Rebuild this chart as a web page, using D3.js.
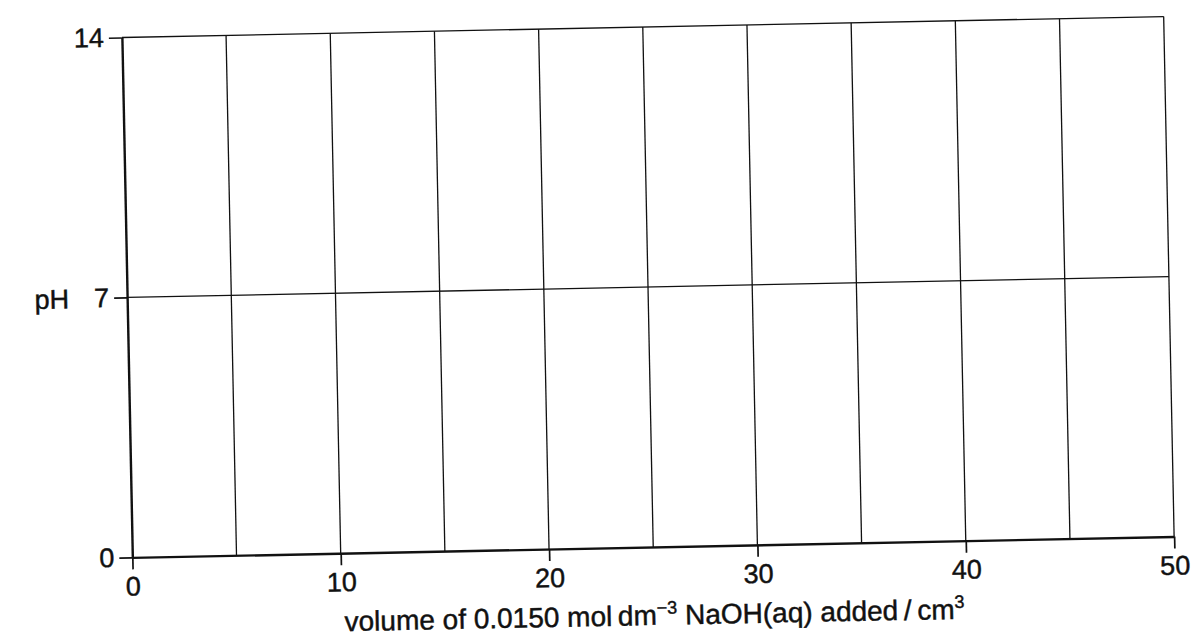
<!DOCTYPE html>
<html>
<head>
<meta charset="utf-8">
<script src="https://cdn.jsdelivr.net/npm/d3@7"></script>
<style>
  body { margin: 0; background: #fff; }
  svg { display: block; font-family: "Liberation Sans", Arial, sans-serif; }
  text { stroke: #111; stroke-width: 0.45px; }
</style>
</head>
<body>
<svg id="chart"></svg>
<script>
// axis ranges and tick labels
const xDomain = [0, 50];
const yDomain = [0, 14];
const xTicks = [0, 10, 20, 30, 40, 50];
const yTicks = [0, 7, 14];
// ruled grid lines (the scan has one every 5 cm3 and one at pH 7)
const gridX = [5, 10, 15, 20, 25, 30, 35, 40, 45, 50];
const gridY = [7, 14];
const xTitle = 'volume of 0.0150 mol\u2009dm';
const yTitle = 'pH';

const width = 1194;
const height = 642;
const margin = { top: 27, left: 127 };
const plotW = 1042;
const plotH = 520;
const ink = '#111';

const x = d3.scaleLinear().domain(xDomain).range([0, plotW]);
const y = d3.scaleLinear().domain(yDomain).range([plotH, 0]);

const svg = d3.select('#chart')
    .attr('width', width)
    .attr('height', height);

// the page was scanned slightly askew
const page = svg.append('g')
    .attr('transform', 'rotate(-1.15, 648, 287)');

const chart = page.append('g')
    .attr('transform', `translate(${margin.left},${margin.top})`);

chart.selectAll('.vgrid')
    .data(gridX)
  .enter().append('line')
    .attr('class', 'vgrid')
    .attr('x1', d => x(d)).attr('x2', d => x(d))
    .attr('y1', y(yDomain[0])).attr('y2', y(yDomain[1]))
    .attr('stroke', ink)
    .attr('stroke-width', 1.3);

chart.selectAll('.hgrid')
    .data(gridY)
  .enter().append('line')
    .attr('class', 'hgrid')
    .attr('x1', x(xDomain[0])).attr('x2', x(xDomain[1]))
    .attr('y1', d => y(d)).attr('y2', d => y(d))
    .attr('stroke', ink)
    .attr('stroke-width', 1.3);

const xAxis = d3.axisBottom(x)
    .tickValues(xTicks)
    .tickSize(12)
    .tickSizeOuter(0)
    .tickPadding(7);

const yAxis = d3.axisLeft(y)
    .tickValues(yTicks)
    .tickSize(13)
    .tickSizeOuter(0)
    .tickPadding(5);

const gx = chart.append('g')
    .attr('transform', `translate(0,${plotH})`)
    .call(xAxis);

const gy = chart.append('g')
    .call(yAxis);

[gx, gy].forEach(g => {
  g.attr('font-size', 27).attr('font-family', null);
  g.select('.domain').attr('stroke', ink).attr('stroke-width', 2.4);
  g.selectAll('.tick line').attr('stroke', ink).attr('stroke-width', 1.7);
  g.selectAll('.tick text').attr('fill', ink);
});

chart.append('text')
    .attr('x', -58)
    .attr('y', y(7))
    .attr('dy', '0.36em')
    .attr('text-anchor', 'end')
    .attr('font-size', 27)
    .attr('fill', ink)
    .text(yTitle);

const title = chart.append('text')
    .attr('x', plotW / 2)
    .attr('y', plotH + 78)
    .attr('text-anchor', 'middle')
    .attr('font-size', 28)
    .attr('fill', ink);

title.append('tspan').text(xTitle);
title.append('tspan').attr('font-size', 18).attr('dy', -11).text('\u22123');
title.append('tspan').attr('dy', 11).text(' NaOH(aq) added\u2009/\u2009cm');
title.append('tspan').attr('font-size', 18).attr('dy', -11).text('3');
</script>
</body>
</html>
